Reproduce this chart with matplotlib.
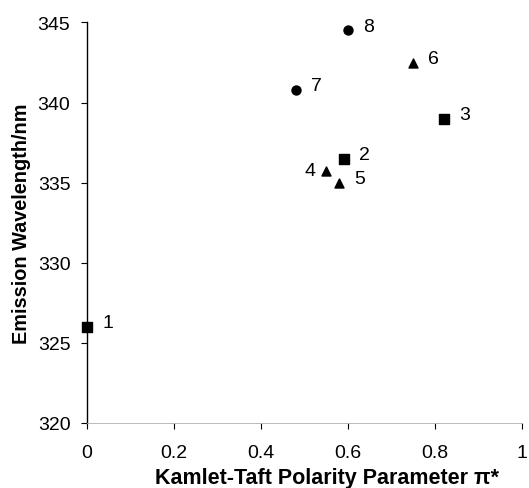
import matplotlib.pyplot as plt

plt.rcParams['font.family'] = ['Liberation Sans', 'DejaVu Sans']

# solvent points: polarity pi* vs emission wavelength
labels = ['1', '2', '3', '4', '5', '6', '7', '8']
pi_star = [0.0, 0.59, 0.82, 0.55, 0.58, 0.75, 0.48, 0.60]
wavelength = [326.0, 336.5, 339.0, 335.7, 335.0, 342.5, 340.8, 344.5]
markers = ['s', 's', 's', '^', '^', '^', 'o', 'o']

fig = plt.figure(figsize=(5.29, 4.89), dpi=100)
ax = fig.add_axes([0.1645, 0.133, 0.822, 0.819])

for x, y, m, lab in zip(pi_star, wavelength, markers, labels):
    ax.scatter(x, y, marker=m, s=42, color='black', zorder=3, clip_on=False)
    if lab == '4':
        ax.annotate(lab, (x, y), xytext=(-8, 1), textcoords='offset points',
                    ha='right', va='center', fontsize=14)
    else:
        ax.annotate(lab, (x, y), xytext=(11, 3), textcoords='offset points',
                    ha='left', va='center', fontsize=14)

ax.set_xlim(0, 1)
ax.set_ylim(320, 345)
ax.set_xticks([0, 0.2, 0.4, 0.6, 0.8, 1])
ax.set_xticklabels(['0', '0.2', '0.4', '0.6', '0.8', '1'])
ax.set_yticks([320, 325, 330, 335, 340, 345])

ax.spines['top'].set_visible(False)
ax.spines['right'].set_visible(False)
ax.spines['left'].set_linewidth(1.0)
ax.spines['bottom'].set_linewidth(0.6)
ax.spines['bottom'].set_color('#b0b0b0')
ax.tick_params(direction='out', length=4, width=0.8, labelsize=14)
ax.tick_params(axis='y', pad=8)
ax.tick_params(axis='x', pad=11)

ax.set_xlabel('Kamlet-Taft Polarity Parameter \u03c0*', fontsize=15.5,
              fontweight='bold', va='center')
ax.xaxis.set_label_coords(0.552, -0.135)
ax.set_ylabel('Emission Wavelength/nm', fontsize=14.3, fontweight='bold',
              labelpad=5)

fig.savefig('out.png', dpi=100)
